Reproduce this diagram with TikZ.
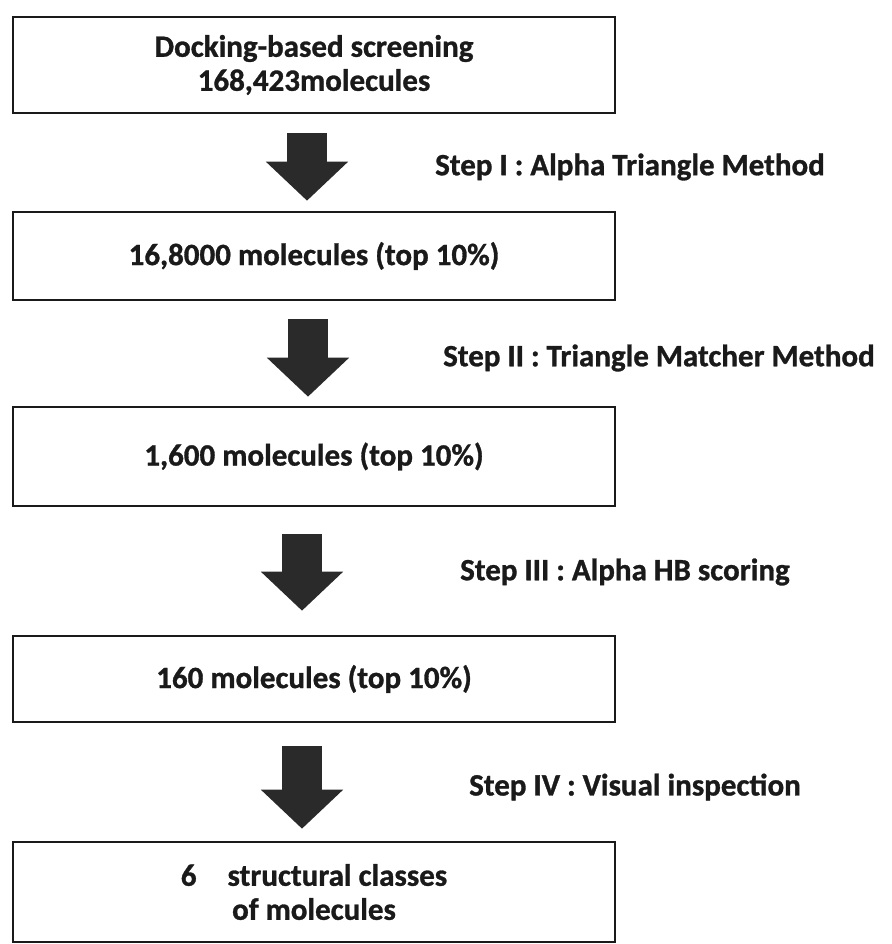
\documentclass[tikz,border=0pt]{standalone}
\usepackage{fontspec}
\setmainfont{Carlito}[BoldFeatures={FakeBold=1}]
\usetikzlibrary{arrows.meta}
\definecolor{ink}{HTML}{1A1A1A}
\definecolor{arrowgray}{HTML}{2A2A2A}
\begin{document}
\begin{tikzpicture}[x=1pt,y=1pt,
  box/.style={draw=ink, line width=2.6pt, minimum width=602pt, inner sep=0pt, align=center,
    font=\fontsize{31}{34}\selectfont\bfseries, text=ink},
  steplabel/.style={anchor=west, inner sep=0pt, font=\fontsize{31}{34}\selectfont\bfseries, text=ink},
  fatarrow/.style={draw=arrowgray, line width=40pt, -{Triangle[width=80pt,length=39pt]}}
]
\useasboundingbox (0,0) rectangle (891,-944);
\node[box, minimum height=96pt] (b1) at (314,-65) {Docking-based screening\\168,423molecules};
\node[box, minimum height=88pt] (b2) at (314,-256) {16,8000 molecules (top 10\%)};
\node[box, minimum height=99pt] (b3) at (314,-456.5) {1,600 molecules (top 10\%)};
\node[box, minimum height=86pt] (b4) at (314,-679) {160 molecules (top 10\%)};
\node[box, minimum height=100pt] (b5) at (314,-892) {6\quad structural classes\\of molecules};

\draw[fatarrow, shorten <=19pt, shorten >=10pt] ([xshift=-7pt]b1.south) -- ([xshift=-7pt]b2.north);
\draw[fatarrow, shorten <=18pt, shorten >=9pt] ([xshift=-6pt]b2.south) -- ([xshift=-6pt]b3.north);
\draw[fatarrow, shorten <=27pt, shorten >=24pt] ([xshift=-12pt]b3.south) -- ([xshift=-12pt]b4.north);
\draw[fatarrow, shorten <=23pt, shorten >=12pt] ([xshift=-12pt]b4.south) -- ([xshift=-12pt]b5.north);

\node[steplabel] (s1) at (435,-167) {Step I : Alpha Triangle Method};
\node[steplabel] (s2) at (443,-358) {Step II : Triangle Matcher Method};
\node[steplabel] (s3) at (460,-572) {Step III : Alpha HB scoring};
\node[steplabel] (s4) at (469,-787) {Step IV : Visual inspection};
\end{tikzpicture}
\end{document}
